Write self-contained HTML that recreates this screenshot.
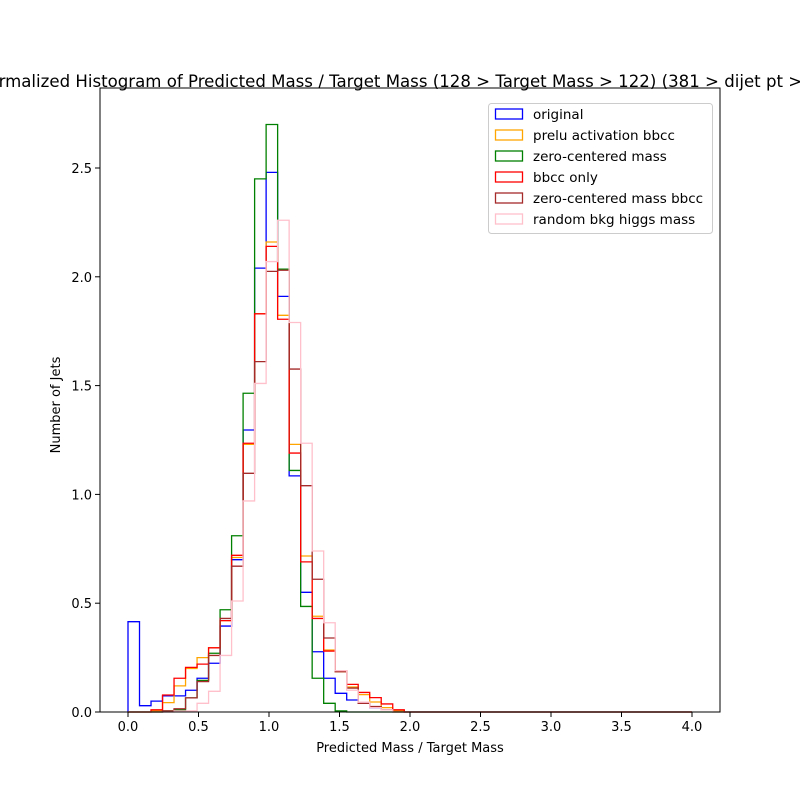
<!DOCTYPE html>
<html><head><meta charset="utf-8"><style>
body{margin:0;background:#fff;}
svg{display:block;font-family:"DejaVu Sans","Liberation Sans",sans-serif;}
</style></head><body>
<svg id="chart" width="800" height="800" viewBox="0 0 800 800" xmlns="http://www.w3.org/2000/svg">
<rect x="0" y="0" width="800" height="800" fill="#fff"/>
<g id="plot"></g>
</svg>
<script>
const NBINS = 49;
const xMin = 0, xMax = 4;
const seriesNames = ["original","prelu activation bbcc","zero-centered mass","bbcc only","zero-centered mass bbcc","random bkg higgs mass"];
const seriesColors = ["blue","orange","green","red","brown","pink"];
const original = [0.415,0.029,0.05,0.074,0.074,0.10,0.155,0.224,0.395,0.70,1.296,2.04,2.48,1.91,1.085,0.55,0.277,0.155,0.086,0.055,0.04,0.02,0.01,0.005];
const prelu = [0,0,0.005,0.043,0.12,0.20,0.25,0.295,0.42,0.71,1.23,1.83,2.16,1.823,1.23,0.717,0.44,0.285,0.185,0.115,0.08,0.046,0.02,0.005];
const zeroCentered = [0,0,0,0.005,0.01,0.065,0.145,0.27,0.47,0.81,1.465,2.45,2.70,2.035,1.11,0.485,0.155,0.04,0.005];
const bbccOnly = [0,0,0.01,0.078,0.155,0.205,0.22,0.295,0.42,0.72,1.235,1.83,2.14,1.805,1.19,0.69,0.43,0.28,0.19,0.127,0.09,0.066,0.037,0.01];
const zeroCenteredBbcc = [0,0,0,0.005,0.015,0.065,0.14,0.26,0.43,0.67,1.097,1.61,2.025,2.03,1.576,1.04,0.61,0.34,0.185,0.11,0.04,0.025,0.01];
const randomBkg = [0,0,0,0,0.005,0.005,0.04,0.095,0.26,0.51,0.97,1.51,2.07,2.26,1.79,1.235,0.74,0.41,0.19,0.10,0.045,0.02,0.01];
const xTicks = [0,0.5,1,1.5,2,2.5,3,3.5,4];
const xTickLabels = ["0.0","0.5","1.0","1.5","2.0","2.5","3.0","3.5","4.0"];
const yTicks = [0,0.5,1,1.5,2,2.5];
const yTickLabels = ["0.0","0.5","1.0","1.5","2.0","2.5"];

const NS = "http://www.w3.org/2000/svg";
const L=100,R=720,T=88,B=712;
function xs(v){return 128 + (v - xMin) * (692-128)/(xMax-xMin);}
function ys(v){return B - v * 217.6;}
const g = document.getElementById('plot');
function mk(tag, attrs){const e=document.createElementNS(NS,tag);for(const k in attrs)e.setAttribute(k,attrs[k]);return e;}

const allSeries=[original,prelu,zeroCentered,bbccOnly,zeroCenteredBbcc,randomBkg];
const slugs=["original","prelu-bbcc","zero-centered","bbcc-only","zero-centered-bbcc","random-bkg"];
allSeries.forEach((vals,si)=>{
  const w=(xMax-xMin)/NBINS;
  let d="M"+xs(xMin).toFixed(2)+","+ys(0).toFixed(2);
  for(let i=0;i<NBINS;i++){
    const v=vals[i]||0;
    const x0=xs(xMin+i*w), x1=xs(xMin+(i+1)*w);
    d+=" L"+x0.toFixed(2)+","+ys(v).toFixed(2)+" L"+x1.toFixed(2)+","+ys(v).toFixed(2);
  }
  d+=" L"+xs(xMax).toFixed(2)+","+ys(0).toFixed(2);
  const p=mk('path',{d:d,fill:'none',stroke:seriesColors[si],'stroke-width':1.3});
  
  
  g.appendChild(p);
});

const frame=mk('rect',{x:L,y:T,width:R-L,height:B-T,fill:'none',stroke:'#000','stroke-width':1});


g.appendChild(frame);

xTicks.forEach((t,i)=>{
  const x=xs(t);
  const tk=mk('line',{x1:x,y1:B,x2:x,y2:B+5,stroke:'#000','stroke-width':1});
  
  
  g.appendChild(tk);
  const tx=mk('text',{x:x,y:B+19,'font-size':13,'text-anchor':'middle',fill:'#000'});
  tx.textContent=xTickLabels[i];
  
  
  g.appendChild(tx);
});
yTicks.forEach((t,i)=>{
  const y=ys(t);
  const tk=mk('line',{x1:L-5,y1:y,x2:L,y2:y,stroke:'#000','stroke-width':1});
  
  
  g.appendChild(tk);
  const tx=mk('text',{x:L-8,y:y+5,'font-size':13,'text-anchor':'end',fill:'#000'});
  tx.textContent=yTickLabels[i];
  
  
  g.appendChild(tx);
});

const lg=mk('g',{});


g.appendChild(lg);
const lbox=mk('rect',{x:488.5,y:103.5,width:224,height:130,rx:3,fill:'#fff','fill-opacity':0.8,stroke:'#ccc','stroke-width':1});


lg.appendChild(lbox);
seriesNames.forEach((n,i)=>{
  const y=114+i*21;
  const h=mk('rect',{x:495.5,y:y-5,width:27,height:10,fill:'none',stroke:seriesColors[i],'stroke-width':1.3});
  
  
  lg.appendChild(h);
  const t=mk('text',{x:533,y:y+5,'font-size':13.5,fill:'#000'});
  t.textContent=n;
  
  
  lg.appendChild(t);
});
</script>
<svg width="800" height="800" style="position:absolute;left:0;top:0;pointer-events:none" xmlns="http://www.w3.org/2000/svg">
<text x="-24" y="87" font-size="16.6" text-anchor="start" font-family="DejaVu Sans, Liberation Sans, sans-serif">Normalized Histogram of Predicted Mass / Target Mass (128 &gt; Target Mass &gt; 122) (381 &gt; dijet pt &gt; 341)</text>
<text x="410" y="752" font-size="13" text-anchor="middle" font-family="DejaVu Sans, Liberation Sans, sans-serif">Predicted Mass / Target Mass</text>
<text x="60" y="405" font-size="13" text-anchor="middle" transform="rotate(-90 60 405)" font-family="DejaVu Sans, Liberation Sans, sans-serif">Number of Jets</text>
</svg>
</body></html>
